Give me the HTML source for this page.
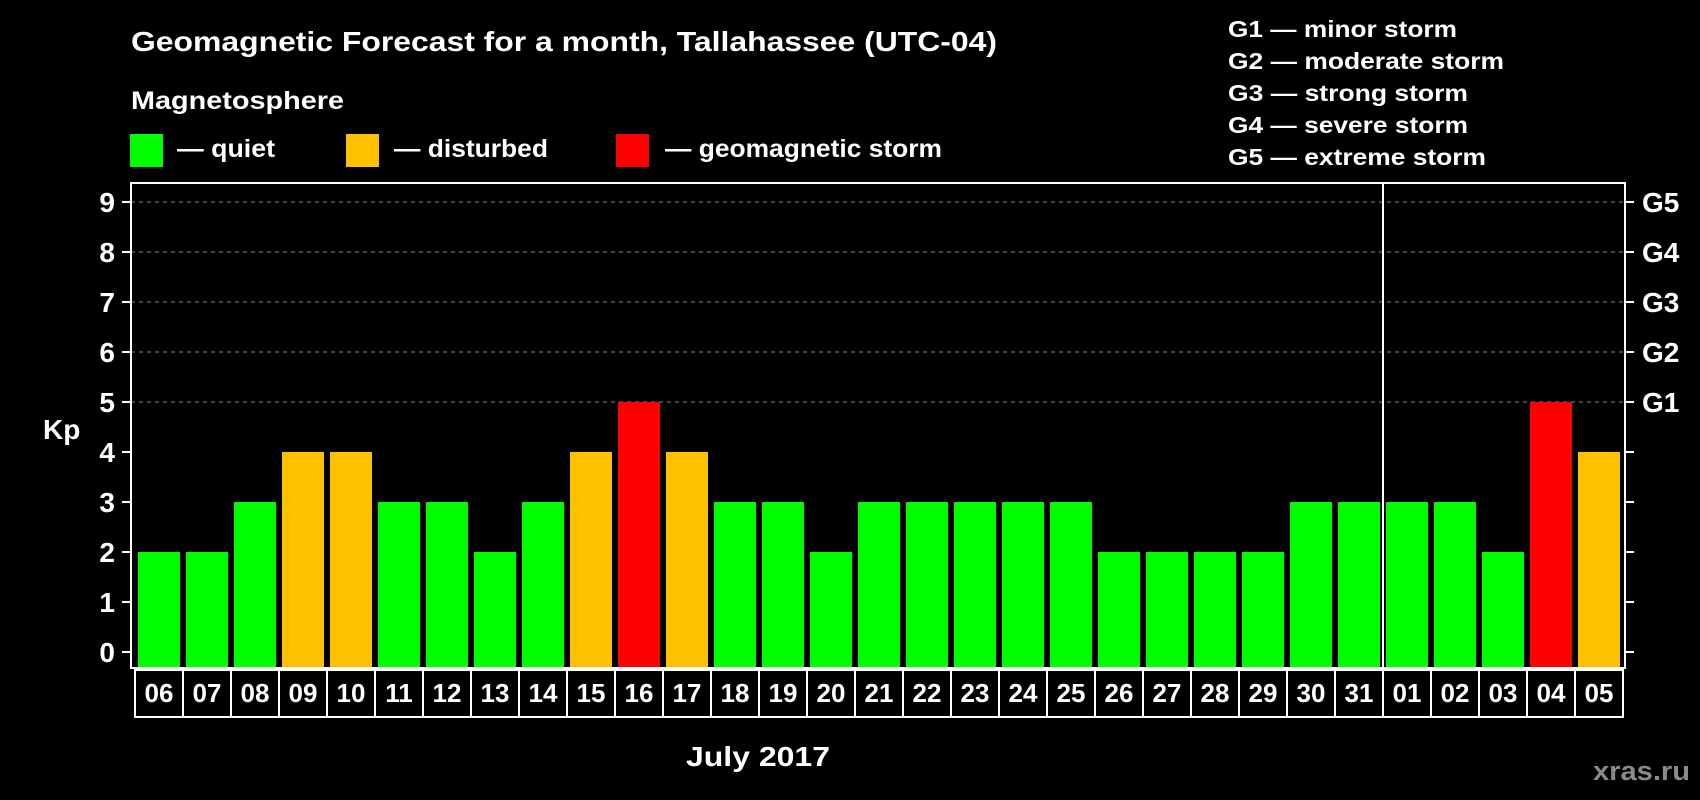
<!DOCTYPE html>
<html><head><meta charset="utf-8"><style>
html,body{margin:0;padding:0;background:#000;}
svg{display:block;font-family:"Liberation Sans",Arial,sans-serif;font-weight:bold;}
</style></head><body>
<svg id="chart" width="1700" height="800" viewBox="0 0 1700 800" xmlns="http://www.w3.org/2000/svg">
<rect width="1700" height="800" fill="#000"/>
<text x="131" y="51" fill="#fff" font-size="28" textLength="866" lengthAdjust="spacingAndGlyphs">Geomagnetic Forecast for a month, Tallahassee (UTC-04)</text>
<text x="131" y="109" fill="#fff" font-size="25" textLength="213" lengthAdjust="spacingAndGlyphs">Magnetosphere</text>
<g>
<rect x="130" y="134" width="33" height="33" fill="#00ff00"/>
<text x="177" y="157" fill="#fff" font-size="25" textLength="98" lengthAdjust="spacingAndGlyphs">— quiet</text></g>
<g>
<rect x="346" y="134" width="33" height="33" fill="#ffc000"/>
<text x="394" y="157" fill="#fff" font-size="25" textLength="154" lengthAdjust="spacingAndGlyphs">— disturbed</text></g>
<g>
<rect x="616" y="134" width="33" height="33" fill="#ff0000"/>
<text x="665" y="157" fill="#fff" font-size="25" textLength="277" lengthAdjust="spacingAndGlyphs">— geomagnetic storm</text></g>
<g fill="#fff" font-size="23">
<text x="1228" y="37" textLength="229" lengthAdjust="spacingAndGlyphs">G1 — minor storm</text>
<text x="1228" y="69" textLength="276" lengthAdjust="spacingAndGlyphs">G2 — moderate storm</text>
<text x="1228" y="101" textLength="240" lengthAdjust="spacingAndGlyphs">G3 — strong storm</text>
<text x="1228" y="133" textLength="240" lengthAdjust="spacingAndGlyphs">G4 — severe storm</text>
<text x="1228" y="165" textLength="258" lengthAdjust="spacingAndGlyphs">G5 — extreme storm</text>
</g>
<text x="43" y="439" fill="#fff" font-size="28">Kp</text>
<g id="grid"></g>
<g id="bars"></g>
<rect x="131" y="183" width="1494" height="485" fill="none" stroke="#fff" stroke-width="2"/>
<g id="axes"></g>
<g id="dates"></g>
<text x="686" y="766" fill="#fff" font-size="28" textLength="144" lengthAdjust="spacingAndGlyphs">July 2017</text>
<text x="1593" y="780" fill="#8a8a8a" font-size="27" textLength="97" lengthAdjust="spacingAndGlyphs">xras.ru</text>
</svg>
<script>
const days = ["06","07","08","09","10","11","12","13","14","15","16","17","18","19","20","21","22","23","24","25","26","27","28","29","30","31","01","02","03","04","05"];
const kpValues = [2,2,3,4,4,3,3,2,3,4,5,4,3,3,2,3,3,3,3,3,2,2,2,2,3,3,3,3,2,5,4];
const yTicks = [0,1,2,3,4,5,6,7,8,9];
const gLabels = ["G1","G2","G3","G4","G5"];
const monthBreakIndex = 26;

const NS = "http://www.w3.org/2000/svg";
const x0 = 135, band = 48, pad = 3, plotL = 131, plotR = 1625, plotB = 668;
function xScale(i){ return x0 + band*i; }
function yScale(v){ return 652 - 50*v; }
function color(v){ return v >= 5 ? "#ff0000" : (v >= 4 ? "#ffc000" : "#00ff00"); }
function mk(tag, attrs, parent){ const e=document.createElementNS(NS,tag); for(const k in attrs) e.setAttribute(k,attrs[k]); parent.appendChild(e); return e; }

const grid=document.getElementById("grid"), bars=document.getElementById("bars"), axes=document.getElementById("axes"), dates=document.getElementById("dates");

yTicks.forEach(v=>{
  if(v>=5){
    const g=mk("line",{x1:plotL,x2:plotR,y1:yScale(v),y2:yScale(v),stroke:"#888","stroke-width":1,"stroke-dasharray":"4,4"},grid);
    
    
  }
  const t=mk("line",{x1:122,x2:plotL,y1:yScale(v),y2:yScale(v),stroke:"#fff","stroke-width":2},axes);
  
  
  const t2=mk("line",{x1:plotR,x2:1634,y1:yScale(v),y2:yScale(v),stroke:"#fff","stroke-width":2},axes);
  
  
  const l=mk("text",{x:115,y:yScale(v)+10,fill:"#fff","font-size":28,"text-anchor":"end"},axes);
  l.textContent=v;
  
  
});
gLabels.forEach((g,i)=>{
  const l=mk("text",{x:1642,y:yScale(5+i)+10,fill:"#fff","font-size":28},axes);
  l.textContent=g;
  
  
});
kpValues.forEach((v,i)=>{
  const r=mk("rect",{x:xScale(i)+pad,y:yScale(v),width:band-2*pad,height:plotB-yScale(v),fill:color(v)},bars);
  
  
});
const sep=mk("line",{x1:xScale(monthBreakIndex),x2:xScale(monthBreakIndex),y1:183,y2:668,stroke:"#fff","stroke-width":2},axes);


days.forEach((d,i)=>{
  const b=mk("rect",{x:xScale(i),y:670,width:band,height:47,fill:"none",stroke:"#fff","stroke-width":2},dates);
  
  
  const t=mk("text",{x:xScale(i)+band/2,y:702,fill:"#fff","font-size":26,"text-anchor":"middle"},dates);
  t.textContent=d;
  
  
});
</script>
</body></html>
